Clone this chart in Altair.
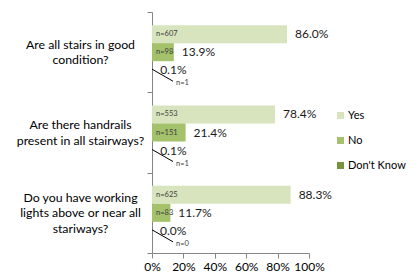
import altair as alt
import pandas as pd

questions = [
    "Are all stairs in good|condition?",
    "Are there handrails|present in all stairways?",
    "Do you have working|lights above or near all|stariways?",
]
responses = ["Yes", "No", "Don't Know"]
yes_pct = [0.860, 0.784, 0.883]
no_pct = [0.139, 0.214, 0.117]
dk_pct = [0.001, 0.001, 0.000]
yes_n = [607, 553, 625]
no_n = [98, 151, 83]
dk_n = [1, 1, 0]
colors = ["#D7E4BD", "#A4C16B", "#77933C"]
x_ticks = [0, 0.2, 0.4, 0.6, 0.8, 1.0]

rows = []
for i, q in enumerate(questions):
    for r, p, n in zip(responses, [yes_pct[i], no_pct[i], dk_pct[i]], [yes_n[i], no_n[i], dk_n[i]]):
        rows.append({"question": q, "response": r, "pct": p, "n_label": f"n={n}"})
df = pd.DataFrame(rows)

FONT = "Lato"

x_axis = alt.Axis(
    format=".0%",
    values=x_ticks,
    grid=False,
    title=None,
    tickSize=5,
    labelPadding=3,
    labelOverlap=False,
    labelFlush=False,
    labelFont=FONT,
    labelFontSize=12,
    labelColor="#000000",
    domainColor="#868686",
    tickColor="#868686",
)
xscale = alt.Scale(domain=[0, 1])

base = alt.Chart(df).encode(
    y=alt.Y(
        "question:N",
        sort=questions,
        scale=alt.Scale(paddingInner=0, paddingOuter=0),
        axis=alt.Axis(
            title=None,
            labelExpr="split(datum.label, '|')",
            labelAlign="center",
            labelBaseline="middle",
            labelOffset=alt.condition(
                "length(split(datum.value, '|')) > 2", alt.value(-15.5), alt.value(-8)
            ),
            labelPadding=67,
            tickSize=5,
            tickBand="extent",
            labelFont=FONT,
            labelFontSize=12.3,
            labelLineHeight=15.5,
            labelColor="#000000",
            labelLimit=0,
            domainColor="#868686",
            tickColor="#868686",
        ),
    ),
    yOffset=alt.YOffset(
        "response:N",
        sort=responses,
        scale=alt.Scale(paddingOuter=0.73, paddingInner=0),
    ),
)

bars = base.mark_bar().encode(
    x=alt.X("pct:Q", scale=xscale, axis=x_axis),
    color=alt.Color(
        "response:N",
        sort=responses,
        scale=alt.Scale(domain=responses, range=colors),
        legend=alt.Legend(
            title=None,
            orient="none",
            legendX=183,
            legendY=98,
            padding=0,
            rowPadding=13,
            labelOffset=2,
            symbolType="square",
            symbolSize=49,
            symbolStrokeWidth=0,
            labelFont=FONT,
            labelFontSize=11,
            labelColor="#000000",
            labelLimit=0,
        ),
    ),
)

pct_text = base.mark_text(
    align="left", baseline="middle", dx=8, font=FONT, fontSize=12, color="#1a1a1a"
).encode(
    x=alt.X("pct:Q", scale=xscale, axis=x_axis),
    text=alt.Text("pct:Q", format=".1%"),
)

n_text = base.transform_filter("datum.response != \"Don't Know\"").mark_text(
    align="left", baseline="middle", dx=4, font=FONT, fontSize=7.5, color="#404040"
).encode(
    x=alt.X(datum=0, scale=xscale, axis=x_axis),
    text="n_label:N",
)

n_text_dk = base.transform_filter("datum.response == \"Don't Know\"").mark_text(
    align="left", baseline="middle", dx=24, dy=13, font=FONT, fontSize=7.5, color="#404040"
).encode(
    x=alt.X(datum=0, scale=xscale, axis=x_axis),
    text="n_label:N",
)

leader = base.transform_filter("datum.response == \"Don't Know\"").mark_point(
    shape="M0,-0.1L2,1.05",
    size=441,
    filled=False,
    color="black",
    strokeWidth=1,
    opacity=1,
).encode(x=alt.X(datum=0, scale=xscale, axis=x_axis))

chart = alt.layer(bars, pct_text, n_text, n_text_dk, leader).properties(
    width=157,
    height=241,
    autosize=alt.AutoSizeParams(type="none"),
    padding={"left": 144, "top": 4, "right": 103, "bottom": 24},
).configure_view(stroke=None)

chart.save("out.html", embed_options={"renderer": "svg", "actions": False})
